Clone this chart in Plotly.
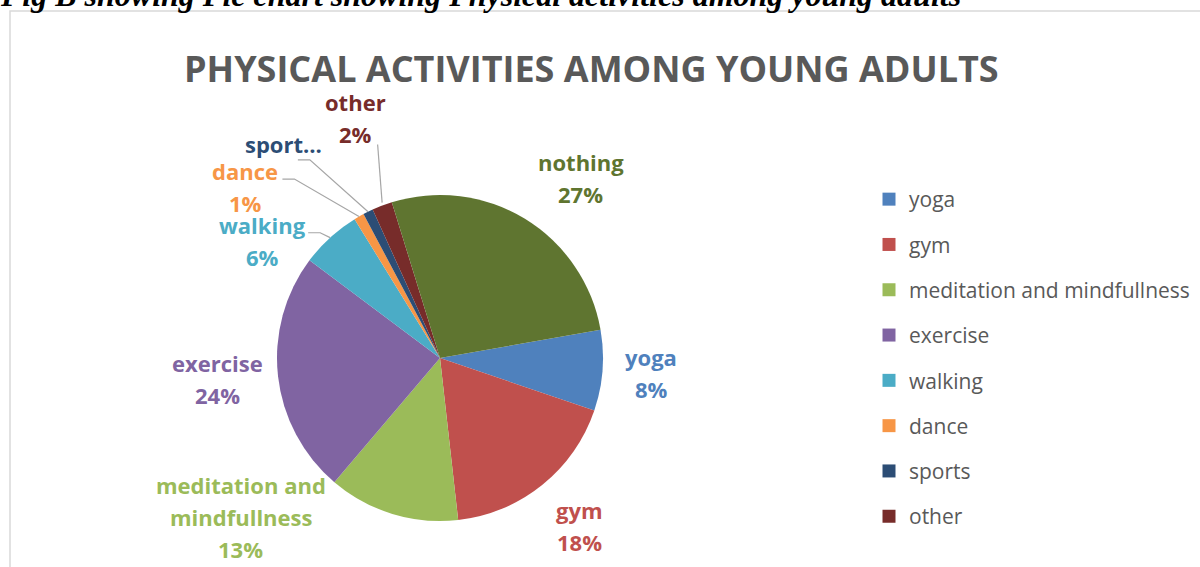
import math
import plotly.graph_objects as go

# ---------------- data ----------------
categories = ["yoga", "gym", "meditation and mindfullness", "exercise", "walking",
              "dance", "sports", "other", "nothing"]
values = [8, 18, 13, 24, 6, 1, 1, 2, 27]
colors = ["#4F81BD", "#C0504D", "#9BBB59", "#8064A2", "#4BACC6",
          "#F79646", "#2C4D75", "#772C2A", "#5F7530"]
label_texts = ["yoga", "gym", "meditation and\nmindfullness", "exercise", "walking",
               "dance", "sport…", "other", "nothing"]
legend_items = categories[:8]
title_text = "PHYSICAL ACTIVITIES AMONG YOUNG ADULTS"
caption_text = "Fig B showing Pie chart showing Physical activities among young adults"

# ---------------- style / layout ----------------
W, H = 1200, 567
CX, CY, R = 440, 358, 163          # pie centre / radius in pixels
ROTATION = 80
show_pct = [True, True, True, True, True, True, False, True, True]
label_dist = [212, 218, 255, 223, 213, 259, 265, 254, 229]
label_angle_offset = [-0.3, -0.9, 34.3, 1.0, -14.2, -18.9, -9.9, 1.4, 6.6]
# leader-line start offsets relative to the label centre (pixels)
leader = [None, None, None, None, (46, -8), (37, -8), (14, 16), (22, 26), None]
LINE_H = 32
LABEL_FONT = dict(family="Open Sans", size=22)
GREY = "#595959"


def px(x):
    return x / W


def py(y):
    return 1 - y / H


total = sum(values)
fig = go.Figure()

fig.add_trace(go.Pie(
    labels=categories, values=values, sort=False, direction="clockwise",
    rotation=ROTATION, marker=dict(colors=colors, line=dict(width=0)),
    textinfo="none", showlegend=False, hoverinfo="label+percent",
    domain=dict(x=[px(CX - R), px(CX + R)], y=[py(CY + R), py(CY - R)]),
))

# legend through dummy traces
for name in legend_items:
    c = colors[categories.index(name)]
    fig.add_trace(go.Scatter(
        x=[None], y=[None], mode="markers", name=name, legendgroup=name,
        marker=dict(symbol="square", size=13, color=c), hoverinfo="skip"))

annotations = []
shapes = []
cum = 0
for i, v in enumerate(values):
    start = ROTATION + cum / total * 360
    mid = start + v / total * 180
    cum += v
    ang = math.radians(mid + label_angle_offset[i])
    lx = CX + label_dist[i] * math.sin(ang)
    ly = CY - label_dist[i] * math.cos(ang)
    lines = label_texts[i].split("\n")
    if show_pct[i]:
        lines.append(f"{round(v / total * 100)}%")
    n = len(lines)
    for k, t in enumerate(lines):
        yy = ly + (k - (n - 1) / 2) * LINE_H
        annotations.append(dict(
            x=px(lx), y=py(yy), xref="paper", yref="paper", text=f"<b>{t}</b>",
            showarrow=False, xanchor="center", yanchor="middle",
            font=dict(color=colors[i], **LABEL_FONT)))
    if leader[i] is not None:
        mrad = math.radians(mid)
        ex = CX + R * math.sin(mrad)
        ey = CY - R * math.cos(mrad)
        sx, sy = lx + leader[i][0], ly + leader[i][1]
        if i == 7:
            pts = [(sx, sy), (ex, ey - 3)]
        else:
            pts = [(sx, sy), (sx + 12, sy), (ex, ey)]
        path = "M " + " L ".join(f"{px(a)},{py(b)}" for a, b in pts)
        shapes.append(dict(type="path", xref="paper", yref="paper", path=path,
                           line=dict(color="#A6A6A6", width=1.2)))

# title
annotations.append(dict(
    x=px(591), y=py(68), xref="paper", yref="paper", text=f"<b>{title_text}</b>",
    showarrow=False, xanchor="center", yanchor="middle",
    font=dict(family="Open Sans", size=36, color=GREY)))

# caption (cut at top, as in the source)
annotations.append(dict(
    x=0, y=py(15), xref="paper", yref="paper",
    text=f"<b><i>{caption_text}</i></b>", showarrow=False,
    xanchor="left", yanchor="bottom", xshift=-2,
    font=dict(family="Liberation Serif", size=32, color="#000000")))

# chart frame
shapes.append(dict(type="rect", xref="paper", yref="paper",
                   x0=px(10), y0=py(600), x1=px(1220), y1=py(11),
                   line=dict(color="#D9D9D9", width=1.5)))

fig.update_layout(
    width=W, height=H, margin=dict(l=0, r=0, t=0, b=0),
    paper_bgcolor="white", plot_bgcolor="white",
    xaxis=dict(visible=False), yaxis=dict(visible=False),
    annotations=annotations, shapes=shapes,
    legend=dict(x=px(869), y=py(179), xanchor="left", yanchor="top",
                tracegroupgap=15, font=dict(family="Open Sans", size=21, color=GREY),
                bgcolor="rgba(0,0,0,0)", traceorder="grouped"),
)

fig.write_html("out.html")
